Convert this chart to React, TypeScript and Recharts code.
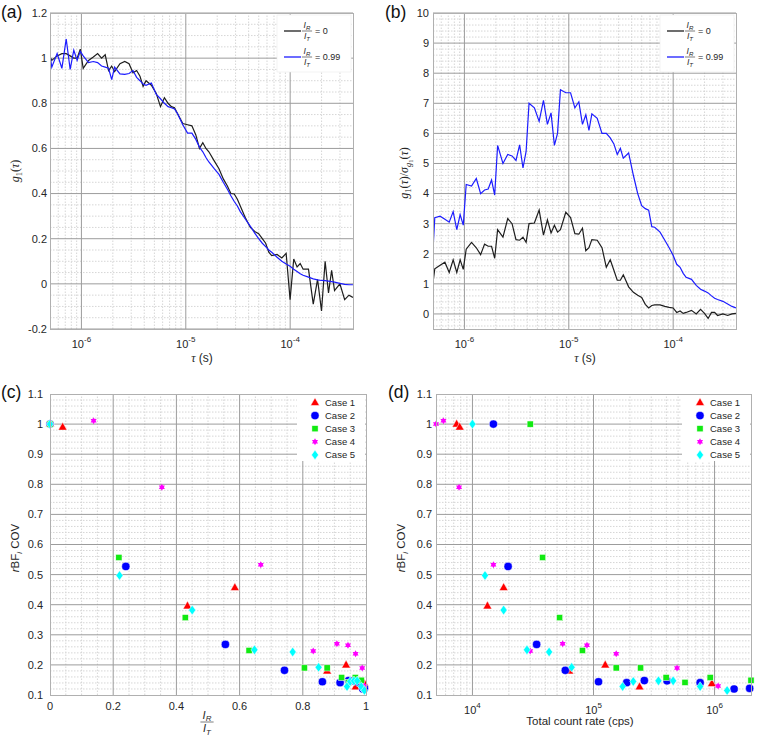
import React from 'react'
import { Line, LineChart, ReferenceLine, Scatter, ScatterChart, XAxis, YAxis } from 'recharts'

// lag times (µs), multi-tau spacing
const TAU_US = [
  0.5, 0.52, 0.585, 0.65, 0.715, 0.78, 0.845, 0.91, 0.975,
  1.04, 1.17, 1.3, 1.43, 1.56, 1.69, 1.82, 1.95,
  2.08, 2.34, 2.6, 2.86, 3.12, 3.38, 3.64, 3.9,
  4.16, 4.68, 5.2, 5.72, 6.24, 6.76, 7.28, 7.8,
  8.32, 9.36, 10.4, 11.44, 12.48, 13.52, 14.56, 15.6,
  16.64, 18.72, 20.8, 22.88, 24.96, 27.04, 29.12, 31.2,
  33.28, 37.44, 41.6, 45.76, 49.92, 54.08, 58.24, 62.4,
  66.56, 74.88, 83.2, 91.52, 99.84, 108.2, 116.5, 124.8,
  133.1, 149.8, 166.4, 183, 199.7, 216.3, 233, 249.6,
  266.2, 299.5, 332.8, 366.1, 399.4,
]

// (a) g1(tau)
const G1_R0 = [
  1.005, 0.99, 1.01, 1.02, 1.02, 1.01, 1.0, 1.0, 1.04,
  0.955, 0.99, 1.005, 1.02, 1.0, 1.015, 0.945, 0.965,
  0.94, 0.975, 0.985, 0.975, 0.935, 0.945, 0.92, 0.875,
  0.9, 0.88, 0.845, 0.785, 0.825, 0.8, 0.785, 0.78,
  0.755, 0.71, 0.705, 0.7, 0.66, 0.6, 0.625, 0.6,
  0.585, 0.545, 0.51, 0.465, 0.435, 0.4, 0.398, 0.375,
  0.345, 0.29, 0.25, 0.232, 0.222, 0.2, 0.18, 0.14,
  0.125, 0.13, 0.115, 0.135, -0.07, 0.11, 0.075, 0.09,
  0.065, 0.065, -0.09, 0.02, -0.12, 0.1, -0.04, 0.06,
  -0.03, 0.0, -0.07, -0.05, -0.06,
]
const G1_R99 = [
  1.015, 0.96, 1.02, 0.955, 1.085, 0.95, 1.035, 0.99, 1.03,
  1.01, 0.98, 0.985, 0.98, 0.965, 0.96, 0.955, 0.905,
  0.96, 0.93, 0.928, 0.932, 0.945, 0.915, 0.9, 0.885,
  0.88, 0.89, 0.84, 0.82, 0.8, 0.785, 0.78, 0.775,
  0.755, 0.705, 0.668, 0.668, 0.64, 0.605, 0.585, 0.56,
  0.54, 0.51, 0.485, 0.45, 0.42, 0.39, 0.365, 0.345,
  0.32, 0.285, 0.255, 0.225, 0.2, 0.18, 0.165, 0.15,
  0.14, 0.118, 0.1, 0.088, 0.078, 0.065, 0.055, 0.045,
  0.038, 0.03, 0.022, 0.018, 0.015, 0.014, 0.012, 0.01,
  0.008, 0.002, -0.002, -0.004, -0.004,
]

// (b) g1 / sigma
const SNR_R0 = [
  1.05, 1.5, 1.62, 1.72, 1.38, 1.8, 1.38, 1.8, 1.48,
  2.15, 2.38, 2.2, 1.97, 2.32, 2.25, 2.25, 1.85,
  2.8, 2.55, 3.17, 3.0, 2.47, 2.45, 2.55, 2.38,
  3.0, 3.02, 3.45, 2.62, 3.13, 2.69, 2.95, 2.72,
  2.8, 3.38, 3.2, 2.67, 2.65, 2.85, 2.1, 2.2,
  2.47, 2.45, 2.2, 1.55, 1.8, 1.45, 1.12, 1.12,
  1.3, 0.9, 0.72, 0.62, 0.55, 0.32, 0.2, 0.28,
  0.3, 0.3, 0.25, 0.22, 0.2, 0.05, 0.1, 0.02,
  0.05, 0.12, 0.0, 0.15, 0.02, -0.15, 0.05, 0.05,
  -0.05, 0.0, -0.05, 0.0, 0.02,
]
const SNR_R99 = [
  2.14, 3.2, 3.25, 3.15, 3.05, 3.4, 2.8, 3.3, 2.95,
  4.3, 4.25, 4.5, 4.0, 4.12, 4.15, 4.45, 3.95,
  5.6, 5.0, 5.3, 5.25, 5.1, 5.62, 4.85, 5.4,
  7.0, 6.85, 6.4, 7.1, 6.3, 6.68, 5.6, 6.0,
  7.45, 7.35, 7.35, 6.85, 7.05, 6.3, 6.62, 6.1,
  6.65, 6.5, 6.0, 6.0, 5.85, 5.65, 5.3, 5.5,
  5.18, 5.35, 4.6, 4.0, 3.6, 3.5, 3.45, 2.9,
  2.88, 2.72, 2.45, 2.2, 1.95, 1.65, 1.55, 1.35,
  1.22, 1.15, 0.95, 0.82, 0.76, 0.7, 0.6, 0.52,
  0.48, 0.42, 0.33, 0.25, 0.2,
]

// (c)/(d) rBF_i COV per case
const CASE1_RATIO = [0, 0.04, 0.435, 0.585, 0.877, 0.937, 0.967, 0.995]
const CASE1_RATE = [7.4e3, 7.85e3, 1.33e4, 1.81e4, 6.3e4, 1.25e5, 2.4e5, 9.5e5]
const CASE1_COV = [1.0, 0.99, 0.396, 0.457, 0.18, 0.2, 0.127, 0.138]

const CASE2_RATIO = [0, 0.24, 0.555, 0.742, 0.862, 0.918, 0.945, 0.96, 0.978, 0.99, 0.995]
const CASE2_RATE = [1.49e4, 1.97e4, 3.39e4, 5.85e4, 1.1e5, 1.88e5, 2.63e5, 4.05e5, 7.6e5, 1.45e6, 1.95e6]
const CASE2_COV = [1.0, 0.527, 0.268, 0.182, 0.144, 0.141, 0.148, 0.147, 0.141, 0.12, 0.122]

const CASE3_RATIO = [0, 0.218, 0.428, 0.63, 0.805, 0.877, 0.923, 0.945, 0.966, 0.985]
const CASE3_RATE = [3.0e4, 3.8e4, 5.25e4, 8.1e4, 1.54e5, 2.45e5, 3.98e5, 5.7e5, 9.2e5, 2.0e6]
const CASE3_COV = [1.0, 0.557, 0.357, 0.248, 0.19, 0.19, 0.158, 0.142, 0.158, 0.149]

const CASE4_RATIO = [0, 0.138, 0.354, 0.667, 0.833, 0.908, 0.943, 0.967, 0.988, 0.995]
const CASE4_RATE = [5.0e3, 5.76e3, 7.75e3, 1.49e4, 3.0e4, 5.56e4, 8.83e4, 1.54e5, 4.9e5, 1.07e6]
const CASE4_COV = [1.0, 1.011, 0.79, 0.533, 0.246, 0.27, 0.265, 0.237, 0.19, 0.13]

const CASE5_RATIO = [0, 0.22, 0.45, 0.647, 0.768, 0.85, 0.94, 0.95, 0.962, 0.972, 0.985, 0.995]
const CASE5_RATE = [1.0e4, 1.27e4, 1.81e4, 2.82e4, 4.3e4, 6.6e4, 1.74e5, 2.13e5, 3.44e5, 4.55e5, 7.6e5, 1.27e6]
const CASE5_COV = [1.0, 0.497, 0.382, 0.25, 0.243, 0.192, 0.128, 0.145, 0.147, 0.147, 0.128, 0.115]

const TAU_TICKS = [1, 10, 100]
const RATE_TICKS = [1e4, 1e5, 1e6]
const G1_TICKS = [-0.2, 0, 0.2, 0.4, 0.6, 0.8, 1, 1.2]
const SNR_TICKS = [0, 1, 2, 3, 4, 5, 6, 7, 8, 9, 10]
const COV_TICKS = [0.1, 0.2, 0.3, 0.4, 0.5, 0.6, 0.7, 0.8, 0.9, 1, 1.1]
const RATIO_TICKS = [0, 0.2, 0.4, 0.6, 0.8, 1]

const FONT = 'Arial, "Liberation Sans", Helvetica, sans-serif'
const SERIF = '"Liberation Serif", "Times New Roman", serif'
const INK = '#262626'
const MAJOR = '#9c9c9c'
const MINOR = '#d6d6d6'
const FRAME = '#b0b0b0'

const YW = 50
const MT = 6
const MR = 6
const XH = 34

type Box = { left: number; top: number; w: number; h: number }
const BOX_A: Box = { left: 50, top: 13, w: 303, h: 316 }
const BOX_B: Box = { left: 433, top: 13, w: 303, h: 316 }
const BOX_C: Box = { left: 50, top: 394, w: 316, h: 301 }
const BOX_D: Box = { left: 436, top: 394, w: 315, h: 301 }

const CASES = [
  { name: 'Case 1', kind: 'tri', color: '#ff0000', ratio: CASE1_RATIO, rate: CASE1_RATE, cov: CASE1_COV },
  { name: 'Case 2', kind: 'circle', color: '#0000ff', ratio: CASE2_RATIO, rate: CASE2_RATE, cov: CASE2_COV },
  { name: 'Case 3', kind: 'square', color: '#12ea12', ratio: CASE3_RATIO, rate: CASE3_RATE, cov: CASE3_COV },
  { name: 'Case 4', kind: 'star', color: '#ff00ff', ratio: CASE4_RATIO, rate: CASE4_RATE, cov: CASE4_COV },
  { name: 'Case 5', kind: 'diamond', color: '#00ffff', ratio: CASE5_RATIO, rate: CASE5_RATE, cov: CASE5_COV },
]

const g1Data = TAU_US.map((t, i) => ({ tau: t, r0: G1_R0[i], r99: G1_R99[i] }))
const snrData = TAU_US.map((t, i) => ({ tau: t, r0: SNR_R0[i], r99: SNR_R99[i] }))

// grid helpers
function steps(from: number, to: number, step: number, skipEvery: number) {
  const out: number[] = []
  const n0 = Math.round(from / step)
  const n1 = Math.round(to / step)
  for (let n = n0; n <= n1; n++) {
    if (n % skipEvery === 0) continue
    out.push(Math.round(n * step * 1000) / 1000)
  }
  return out
}
function logMinor(lo: number, hi: number) {
  const out: number[] = []
  for (let k = Math.floor(Math.log10(lo)); k <= Math.ceil(Math.log10(hi)); k++) {
    for (let m = 2; m <= 9; m++) {
      const v = m * Math.pow(10, k)
      if (v > lo * 1.001 && v < hi * 0.999) out.push(v)
    }
  }
  return out
}

function vLines(vals: number[], major: boolean) {
  return vals.map((v) => (
    <ReferenceLine key={`v${major}${v}`} x={v} stroke={major ? MAJOR : MINOR} strokeWidth={1}
      strokeDasharray={major ? undefined : '1.5 1.5'} />
  ))
}
function hLines(vals: number[], major: boolean) {
  return vals.map((v) => (
    <ReferenceLine key={`h${major}${v}`} y={v} stroke={major ? MAJOR : MINOR} strokeWidth={1}
      strokeDasharray={major ? undefined : '1.5 1.5'} />
  ))
}

function PowTick(props: any) {
  const { x, y, payload, shift = 0 } = props
  const e = Math.round(Math.log10(payload.value)) + shift
  return (
    <text x={x} y={y + 17} textAnchor="middle" fontFamily={FONT} fontSize={11} fill={INK}>
      10<tspan dy={-6} fontSize={8}>{e}</tspan>
    </text>
  )
}

function Marker({ kind, cx, cy, color }: { kind: string; cx: number; cy: number; color: string }) {
  const edge = { stroke: '#ffffff', strokeWidth: 0.5 }
  if (kind === 'tri')
    return <polygon points={`${cx},${cy - 4.8} ${cx + 4.4},${cy + 3} ${cx - 4.4},${cy + 3}`} fill={color} {...edge} />
  if (kind === 'circle') return <circle cx={cx} cy={cy} r={4.1} fill={color} {...edge} />
  if (kind === 'square') return <rect x={cx - 3.1} y={cy - 3.1} width={6.2} height={6.2} fill={color} {...edge} />
  if (kind === 'diamond')
    return <polygon points={`${cx},${cy - 4.8} ${cx + 3.5},${cy} ${cx},${cy + 4.8} ${cx - 3.5},${cy}`} fill={color} {...edge} />
  const pts: string[] = []
  for (let i = 0; i < 12; i++) {
    const a = (Math.PI / 6) * i - Math.PI / 2
    const r = i % 2 ? 2.0 : 3.5
    pts.push(`${cx + r * Math.cos(a)},${cy + r * Math.sin(a)}`)
  }
  return <polygon points={pts.join(' ')} fill={color} />
}

const yTick = { fontSize: 11, fill: INK, fontFamily: FONT }

function TauPanel({ box, data, yDomain, yTicks, yMinor, yGap }: {
  box: Box
  data: { tau: number; r0: number; r99: number }[]
  yDomain: [number, number]
  yTicks: number[]
  yMinor: number[]
  yGap: number
}) {
  return (
    <div style={{ position: 'absolute', left: box.left - YW, top: box.top - MT }}>
      <LineChart width={box.w + YW + MR} height={box.h + MT + XH} data={data}
        margin={{ top: MT, right: MR, bottom: 0, left: 0 }}>
        <XAxis dataKey="tau" type="number" scale="log" domain={[0.5, 400]} ticks={TAU_TICKS}
          tick={<PowTick shift={-6} />} tickLine={false} axisLine={false} tickSize={0} height={XH}
          allowDataOverflow interval={0} />
        <YAxis type="number" domain={yDomain} ticks={yTicks} tick={yTick} tickLine={false}
          axisLine={false} tickSize={0} tickMargin={yGap} width={YW} interval={0} />
        {vLines(logMinor(0.5, 400), false)}
        {hLines(yMinor, false)}
        {vLines(TAU_TICKS, true)}
        {hLines(yTicks, true)}
        <Line dataKey="r0" stroke="#1e1e1e" strokeWidth={1.2} dot={false} isAnimationActive={false} />
        <Line dataKey="r99" stroke="#1c1cff" strokeWidth={1.2} dot={false} isAnimationActive={false} />
      </LineChart>
    </div>
  )
}

function CovPanel({ box, mode }: { box: Box; mode: 'ratio' | 'rate' }) {
  const isLog = mode === 'rate'
  return (
    <div style={{ position: 'absolute', left: box.left - YW, top: box.top - MT }}>
      <ScatterChart width={box.w + YW + MR} height={box.h + MT + XH}
        margin={{ top: MT, right: MR, bottom: 0, left: 0 }}>
        {isLog ? (
          <XAxis dataKey="x" type="number" scale="log" domain={[5e3, 2e6]} ticks={RATE_TICKS}
            tick={<PowTick shift={0} />} tickLine={false} axisLine={false} tickSize={0} height={XH}
            interval={0} />
        ) : (
          <XAxis dataKey="x" type="number" domain={[0, 1]} ticks={RATIO_TICKS} tick={yTick}
            tickLine={false} axisLine={false} tickSize={0} tickMargin={7} height={XH} interval={0} />
        )}
        <YAxis dataKey="y" type="number" domain={[0.1, 1.1]} ticks={COV_TICKS} tick={yTick}
          tickLine={false} axisLine={false} tickSize={0} tickMargin={isLog ? 4 : 7} width={YW} interval={0} />
        {vLines(isLog ? logMinor(5e3, 2e6) : steps(0, 1, 0.05, 4), false)}
        {hLines(steps(0.1, 1.1, 0.02, 5), false)}
        {vLines(isLog ? RATE_TICKS : [0.2, 0.4, 0.6, 0.8], true)}
        {hLines([0.2, 0.3, 0.4, 0.5, 0.6, 0.7, 0.8, 0.9, 1], true)}
        {CASES.map((c) => (
          <Scatter key={c.name} name={c.name}
            data={c.cov.map((y, i) => ({ x: isLog ? c.rate[i] : c.ratio[i], y }))}
            isAnimationActive={false}
            shape={(p: any) => <Marker kind={c.kind} cx={p.cx} cy={p.cy} color={c.color} />} />
        ))}
      </ScatterChart>
    </div>
  )
}

function Frac({ cx, y, size, color = INK }: { cx: number; y: number; size: number; color?: string }) {
  const w = size * 0.6
  return (
    <g fontFamily={FONT} fill={color} fontStyle="italic">
      <text x={cx} y={y - size * 0.3} textAnchor="middle" fontSize={size}>
        I<tspan fontSize={size * 0.72} dy={size * 0.2}>R</tspan>
      </text>
      <line x1={cx - w} x2={cx + w} y1={y} y2={y} stroke={color} strokeWidth={0.6} />
      <text x={cx} y={y + size * 0.95} textAnchor="middle" fontSize={size}>
        I<tspan fontSize={size * 0.72} dy={size * 0.2}>T</tspan>
      </text>
    </g>
  )
}

function LineLegend({ box }: { box: Box }) {
  const x0 = box.left + box.w - 76
  const rows = [
    { label: '= 0', color: '#1e1e1e' },
    { label: '= 0.99', color: '#1c1cff' },
  ]
  return (
    <g>
      <rect x={x0} y={box.top + 2} width={74} height={57} fill="#ffffff" stroke="#ececec" strokeWidth={0.6} />
      {rows.map((r, i) => {
        const y = box.top + 18 + i * 26
        return (
          <g key={r.label}>
            <line x1={x0 + 7} x2={x0 + 24} y1={y} y2={y} stroke={r.color} strokeWidth={1.3} />
            <Frac cx={x0 + 30} y={y} size={8.5} />
            <text x={x0 + 38} y={y + 3.3} fontSize={9} fontFamily={FONT} fill={INK}>{r.label}</text>
          </g>
        )
      })}
    </g>
  )
}

function CaseLegend({ box }: { box: Box }) {
  const x0 = box.left + box.w - 69
  return (
    <g>
      <rect x={x0} y={box.top + 1} width={68} height={66} fill="#ffffff" />
      {CASES.map((c, i) => {
        const y = box.top + 8.5 + i * 13.1
        return (
          <g key={c.name}>
            <Marker kind={c.kind} cx={x0 + 18} cy={y} color={c.color} />
            <text x={x0 + 28} y={y + 3.4} fontSize={9.5} fontFamily={FONT} fill={INK}>{c.name}</text>
          </g>
        )
      })}
    </g>
  )
}

function Frame({ box }: { box: Box }) {
  return <rect x={box.left + 0.5} y={box.top + 0.5} width={box.w} height={box.h} fill="none" stroke={FRAME} strokeWidth={1} />
}

export default function App() {
  return (
    <div style={{ position: 'absolute', left: 0, top: 0, width: 758, height: 738, background: '#fff', fontFamily: FONT }}>
      <TauPanel box={BOX_A} data={g1Data} yDomain={[-0.2, 1.2]} yTicks={G1_TICKS}
        yMinor={steps(-0.2, 1.2, 0.05, 4)} yGap={3} />
      <TauPanel box={BOX_B} data={snrData} yDomain={[-0.5, 10]} yTicks={SNR_TICKS}
        yMinor={steps(-0.4, 9.8, 0.2, 5)} yGap={4} />
      <CovPanel box={BOX_C} mode="ratio" />
      <CovPanel box={BOX_D} mode="rate" />
      <svg width={758} height={738} style={{ position: 'absolute', left: 0, top: 0, pointerEvents: 'none' }}>
        <LineLegend box={BOX_A} />
        <LineLegend box={BOX_B} />
        <CaseLegend box={BOX_C} />
        <CaseLegend box={BOX_D} />
        <Frame box={BOX_A} />
        <Frame box={BOX_B} />
        <Frame box={BOX_C} />
        <Frame box={BOX_D} />

        <g fontFamily={FONT} fontSize={17.5} fill="#111">
          <text x={1} y={18}>(a)</text>
          <text x={385} y={18}>(b)</text>
          <text x={1} y={398}>(c)</text>
          <text x={388} y={398}>(d)</text>
        </g>

        {/* axis titles */}
        <text transform="translate(19,171) rotate(-90)" textAnchor="middle" fontSize={12} fill={INK} fontFamily={SERIF}>
          <tspan fontStyle="italic">g</tspan>
          <tspan fontSize={8.5} dy={3}>1</tspan>
          <tspan dy={-3}>(</tspan>
          <tspan fontStyle="italic">τ</tspan>
          <tspan>)</tspan>
        </text>
        <text transform="translate(408,173) rotate(-90)" textAnchor="middle" fontSize={12} fill={INK} fontFamily={SERIF}>
          <tspan fontStyle="italic">g</tspan>
          <tspan fontSize={8.5} dy={3}>1</tspan>
          <tspan dy={-3}>(</tspan>
          <tspan fontStyle="italic">τ</tspan>
          <tspan>)/</tspan>
          <tspan fontStyle="italic">σ</tspan>
          <tspan fontStyle="italic" fontSize={8.5} dy={3}>g</tspan>
          <tspan fontSize={6.5} dy={2}>1</tspan>
          <tspan dy={-5}>(</tspan>
          <tspan fontStyle="italic">τ</tspan>
          <tspan>)</tspan>
        </text>
        <text x={202} y={362} textAnchor="middle" fontSize={12} fill={INK} fontFamily={FONT}>
          <tspan fontStyle="italic" fontFamily={SERIF}>τ</tspan> (s)
        </text>
        <text x={585} y={362} textAnchor="middle" fontSize={12} fill={INK} fontFamily={FONT}>
          <tspan fontStyle="italic" fontFamily={SERIF}>τ</tspan> (s)
        </text>

        <text transform="translate(19,548) rotate(-90)" textAnchor="middle" fontSize={11.5} fill={INK} fontFamily={FONT}>
          <tspan fontStyle="italic">r</tspan>BF<tspan fontStyle="italic" fontSize={8} dy={3}>i</tspan>
          <tspan dy={-3}> COV</tspan>
        </text>
        <text transform="translate(405,548) rotate(-90)" textAnchor="middle" fontSize={11.5} fill={INK} fontFamily={FONT}>
          <tspan fontStyle="italic">r</tspan>BF<tspan fontStyle="italic" fontSize={8} dy={3}>i</tspan>
          <tspan dy={-3}> COV</tspan>
        </text>

        <Frac cx={207} y={722} size={11} />
        <text x={580} y={725} textAnchor="middle" fontSize={11.5} fill={INK} fontFamily={FONT}>
          Total count rate (cps)
        </text>
      </svg>
    </div>
  )
}
